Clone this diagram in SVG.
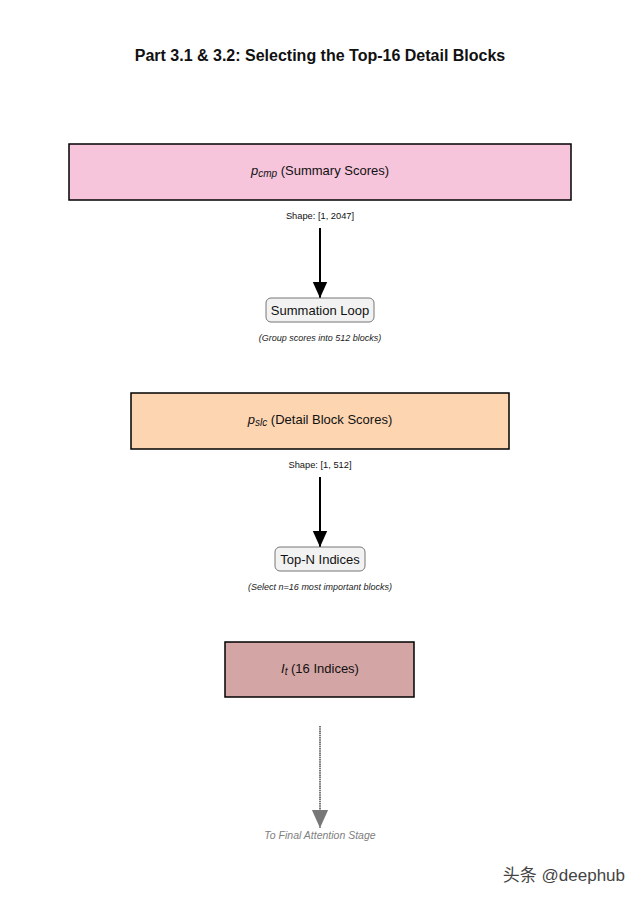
<svg xmlns="http://www.w3.org/2000/svg" width="640" height="898" viewBox="0 0 640 898">
<style>
text{font-family:"Liberation Sans",Arial,sans-serif;fill:#111}
.title{font-size:16px;font-weight:bold}
.lbl{font-size:13px}
.shape{font-size:9.3px}
.note{font-size:9px;font-style:italic;fill:#222}
.big{stroke:#000;stroke-width:1.5}
.proc{fill:#f2f2f2;stroke:#777;stroke-width:1}
.sub{font-style:italic}
</style>
<defs>
<marker id="ah" viewBox="0 0 10 10" refX="10" refY="5" markerWidth="16" markerHeight="16" markerUnits="userSpaceOnUse" orient="auto">
<path d="M0,0.5 L10,5 L0,9.5 Z" fill="#000"/>
</marker>
<marker id="ahg" viewBox="0 0 10 10" refX="10" refY="5" markerWidth="18" markerHeight="18" markerUnits="userSpaceOnUse" orient="auto">
<path d="M0,0.5 L10,5 L0,9.5 Z" fill="#777"/>
</marker>
</defs>
<rect width="640" height="898" fill="#fff"/>
<text class="title" x="320" y="61" text-anchor="middle">Part 3.1 &amp; 3.2: Selecting the Top-16 Detail Blocks</text>

<g id="connectors">
<line x1="320" y1="228" x2="320" y2="298" stroke="#000" stroke-width="2" marker-end="url(#ah)"/>
<line x1="320" y1="477" x2="320" y2="547" stroke="#000" stroke-width="2" marker-end="url(#ah)"/>
<line x1="320" y1="726" x2="320" y2="828" stroke="#777" stroke-width="2" stroke-dasharray="1.5,0.7" marker-end="url(#ahg)"/>
</g>

<g id="p_cmp">
<rect class="big" x="69" y="144" width="502" height="56" fill="#f6c5dc"/>
<text class="lbl" x="320" y="175" text-anchor="middle"><tspan font-style="italic">p</tspan><tspan class="sub" font-size="10" dy="2">cmp</tspan><tspan dy="-2"> (Summary Scores)</tspan></text>
<text class="shape" x="320" y="219" text-anchor="middle">Shape: [1, 2047]</text>
</g>

<g id="summation">
<rect class="proc" x="266" y="298" width="108" height="24" rx="5"/>
<text class="lbl" x="320" y="314.5" text-anchor="middle">Summation Loop</text>
<text class="note" x="320" y="341" text-anchor="middle">(Group scores into 512 blocks)</text>
</g>

<g id="p_slc">
<rect class="big" x="131" y="393" width="378" height="56" fill="#fdd5b1"/>
<text class="lbl" x="320" y="424" text-anchor="middle"><tspan font-style="italic">p</tspan><tspan class="sub" font-size="10" dy="2">slc</tspan><tspan dy="-2"> (Detail Block Scores)</tspan></text>
<text class="shape" x="320" y="468" text-anchor="middle">Shape: [1, 512]</text>
</g>

<g id="topn">
<rect class="proc" x="275" y="547" width="90" height="24" rx="5"/>
<text class="lbl" x="320" y="563.5" text-anchor="middle">Top-N Indices</text>
<text class="note" x="320" y="590" text-anchor="middle">(Select n=16 most important blocks)</text>
</g>

<g id="I_t">
<rect class="big" x="225" y="642" width="189" height="55" fill="#d4a5a5"/>
<text class="lbl" x="320" y="673" text-anchor="middle"><tspan font-style="italic">I</tspan><tspan class="sub" font-size="10" dy="2">t</tspan><tspan dy="-2"> (16 Indices)</tspan></text>
</g>

<g id="final">
<text x="320" y="839" text-anchor="middle" font-size="10.5" font-style="italic" style="fill:#808080">To Final Attention Stage</text>
</g>

<text x="625" y="881" text-anchor="end" font-size="17" style="font-family:'Liberation Sans','Noto Sans CJK SC',sans-serif;fill:#444">头条 @deephub</text>
</svg>
